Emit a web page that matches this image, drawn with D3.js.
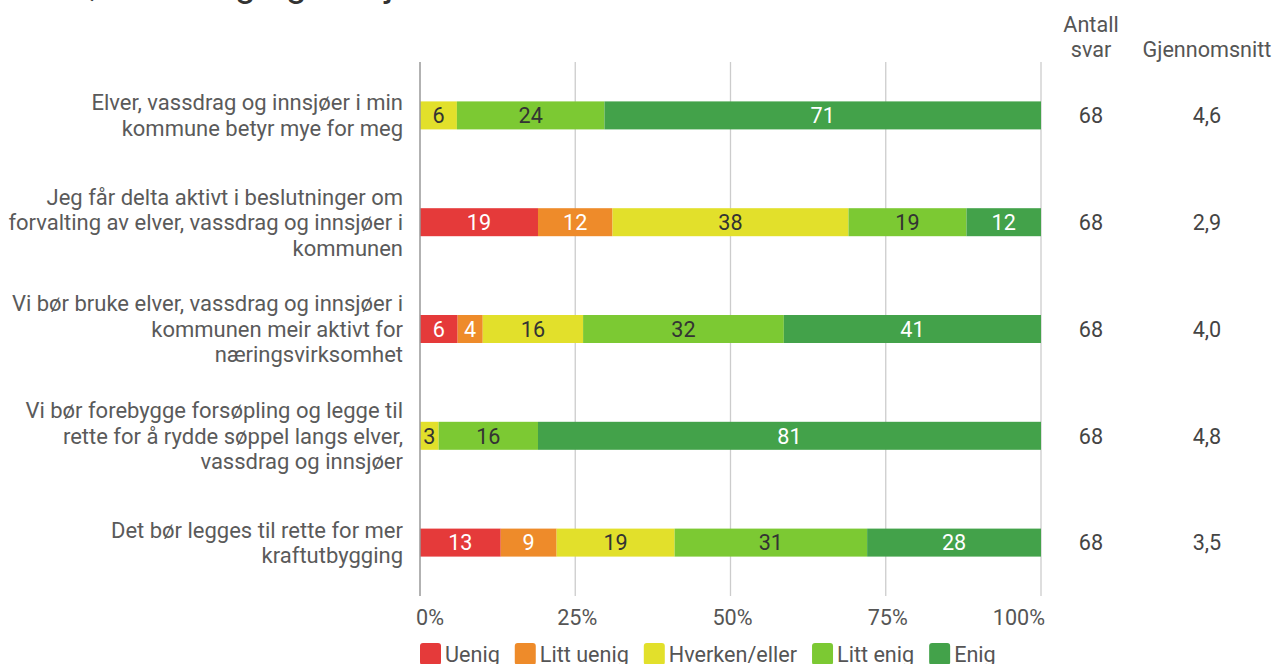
<!DOCTYPE html>
<html><head><meta charset="utf-8">
<script src="https://cdn.jsdelivr.net/npm/d3@7/dist/d3.min.js"></script>
<style>body{margin:0;background:#fff;overflow:hidden}svg{display:block;font-family:Roboto,"Noto Sans",sans-serif}</style>
</head><body><svg id="c" width="1277" height="664"></svg>
<script>
const title = "Elver, vassdrag og innsjøer";
const categories = [
  ["Elver, vassdrag og innsjøer i min","kommune betyr mye for meg"],
  ["Jeg får delta aktivt i beslutninger om","forvalting av elver, vassdrag og innsjøer i","kommunen"],
  ["Vi bør bruke elver, vassdrag og innsjøer i","kommunen meir aktivt for","næringsvirksomhet"],
  ["Vi bør forebygge forsøpling og legge til","rette for å rydde søppel langs elver,","vassdrag og innsjøer"],
  ["Det bør legges til rette for mer","kraftutbygging"]
];
const seriesNames = ["Uenig","Litt uenig","Hverken/eller","Litt enig","Enig"];
const seriesColors = ["#e53a3a","#ee8b2a","#e2e02b","#7cc933","#43a24a"];
const labelColors = ["#fff","#fff","#333","#333","#fff"];
const uenig     = [0,19,6,0,13];
const littUenig = [0,12,4,0,9];
const hverken   = [6,38,16,3,19];
const littEnig  = [24,19,32,16,31];
const enig      = [71,12,41,81,28];
const antallSvar = ["68","68","68","68","68"];
const gjennomsnitt = ["4,6","2,9","4,0","4,8","3,5"];
const ticks = [0,25,50,75,100];
const tickLabels = ["0%","25%","50%","75%","100%"];

const series = [uenig,littUenig,hverken,littEnig,enig];
const svg = d3.select("#c");
const x = d3.scaleLinear().domain([0,100]).range([420,1041]);
const y = d3.scalePoint().domain(d3.range(categories.length)).range([62,596]).padding(0.5);
const barH = 28;
const fs = 21.6;

// title (cut off at top)
svg.append("text").attr("x",12).attr("y",-4).attr("font-size",37).attr("fill","#333").text(title);

// grid
svg.append("g").selectAll("line").data(ticks.slice(1)).join("line")
  .attr("x1",d=>x(d)).attr("x2",d=>x(d)).attr("y1",62).attr("y2",596)
  .attr("stroke","#cccccc").attr("stroke-width",1.3);

// bars
const rows = categories.map((c,i)=>{
  const vals = series.map(s=>s[i]);
  const tot = d3.sum(vals);
  let acc = 0;
  return vals.map((v,k)=>{const o={i,k,v,x0:acc/tot*100,x1:(acc+v)/tot*100}; acc+=v; return o;});
});
const segs = rows.flat().filter(d=>d.v>0);
svg.append("g").selectAll("rect").data(segs).join("rect")
  .attr("x",d=>x(d.x0)).attr("width",d=>x(d.x1)-x(d.x0))
  .attr("y",d=>y(d.i)-barH/2).attr("height",barH)
  .attr("fill",d=>seriesColors[d.k]);
svg.append("g").selectAll("text").data(segs).join("text")
  .attr("x",d=>(x(d.x0)+x(d.x1))/2).attr("y",d=>y(d.i)+7.8)
  .attr("text-anchor","middle").attr("font-size",fs)
  .attr("fill",d=>labelColors[d.k]).text(d=>d.v);

// left axis line
svg.append("line").attr("x1",x(0)).attr("x2",x(0)).attr("y1",62).attr("y2",596)
  .attr("stroke","#999").attr("stroke-width",1.5);

// category labels
const lh = 25.5;
categories.forEach((lines,i)=>{
  const t = svg.append("text").attr("text-anchor","end").attr("font-size",22).attr("fill","#5a5a5a");
  const y0 = y(i) - (lines.length-1)*lh/2 + 7.8;
  lines.forEach((l,j)=>t.append("tspan").attr("x",403).attr("y",y0+j*lh).text(l));
});

// tick labels
svg.append("g").selectAll("text").data(ticks).join("text")
  .attr("x",(d,i)=> i===0 ? 416 : i===ticks.length-1 ? 1045 : x(d)+2)
  .attr("text-anchor",(d,i)=> i===0 ? "start" : i===ticks.length-1 ? "end" : "middle")
  .attr("y",625).attr("font-size",fs).attr("fill","#555")
  .text((d,i)=>tickLabels[i]);

// right columns
const cx1 = 1091, cx2 = 1207;
svg.append("text").attr("x",cx1).attr("y",32).attr("text-anchor","middle").attr("font-size",fs).attr("fill","#555").text("Antall");
svg.append("text").attr("x",cx1).attr("y",57).attr("text-anchor","middle").attr("font-size",fs).attr("fill","#555").text("svar");
svg.append("text").attr("x",cx2).attr("y",57).attr("text-anchor","middle").attr("font-size",fs).attr("fill","#555").text("Gjennomsnitt");
svg.append("g").selectAll("text").data(antallSvar).join("text")
  .attr("x",cx1).attr("y",(d,i)=>y(i)+7.8).attr("text-anchor","middle").attr("font-size",fs).attr("fill","#444").text(d=>d);
svg.append("g").selectAll("text").data(gjennomsnitt).join("text")
  .attr("x",cx2).attr("y",(d,i)=>y(i)+7.8).attr("text-anchor","middle").attr("font-size",fs).attr("fill","#444").text(d=>d);

// legend
let lx = 420;
const lg = svg.append("g");
seriesNames.forEach((n,k)=>{
  lg.append("rect").attr("x",lx).attr("y",643).attr("width",21).attr("height",22).attr("rx",3).attr("fill",seriesColors[k]);
  const t = lg.append("text").attr("x",lx+25).attr("y",662).attr("font-size",fs).attr("fill","#555").text(n);
  lx += 25 + t.node().getComputedTextLength() + 15;
});
</script></body></html>
